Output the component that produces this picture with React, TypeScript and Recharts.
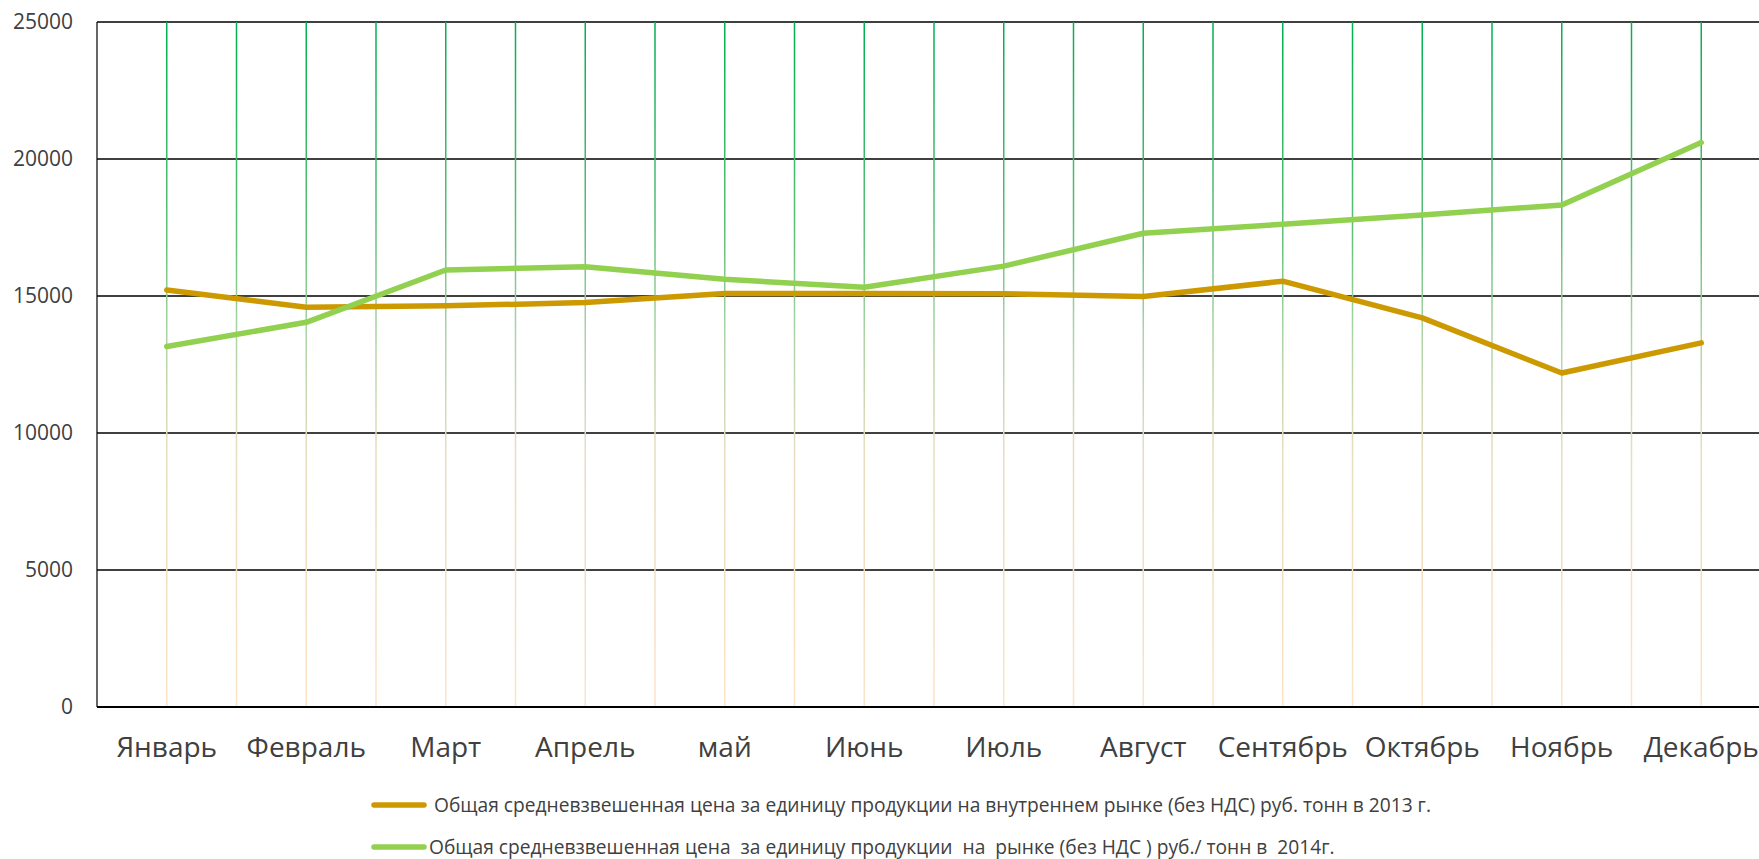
import React from 'react';
import { LineChart, Line, XAxis, YAxis, CartesianGrid, ReferenceLine, Legend } from 'recharts';

const months = ['Январь', 'Февраль', 'Март', 'Апрель', 'май', 'Июнь', 'Июль', 'Август', 'Сентябрь', 'Октябрь', 'Ноябрь', 'Декабрь'];
const prices2013 = [15220, 14590, 14640, 14760, 15090, 15090, 15080, 14980, 15540, 14200, 12190, 13290];
const prices2014 = [13160, 14040, 15950, 16070, 15610, 15320, 16090, 17290, 17620, 17960, 18320, 20600];
const yTicks = [0, 5000, 10000, 15000, 20000, 25000];
const seriesKeys = ['y2013', 'y2014'];
const seriesNames = [
  ' Общая средневзвешенная цена за единицу продукции на внутреннем рынке (без НДС) руб. тонн в 2013 г.',
  'Общая средневзвешенная цена  за единицу продукции  на  рынке (без НДС ) руб./ тонн в  2014г.',
];
const seriesColors = ['#CC9A00', '#92D050'];

const data = months.map((m, i) => ({ idx: i, month: m, y2013: prices2013[i], y2014: prices2014[i] }));
const xTicks = months.map((_, i) => i);
const verticalGrid = months.flatMap((_, i) => (i === 0 ? [0] : [i - 0.5, i]));

const CHART_W = 1780;
const CHART_H = 859;
const MARGIN = { top: 22, right: 9, left: 0, bottom: 72 };
const Y_AXIS_W = 97;
const X_AXIS_H = 80;
const PLOT_TOP = MARGIN.top;
const PLOT_BOTTOM = CHART_H - MARGIN.bottom - X_AXIS_H;
const FONT = '"Open Sans", "Noto Sans", sans-serif';
const TEXT = '#404040';

const LegendContent = (props: any) => {
  const payload = (props.payload || []) as any[];
  return (
    <div style={{ fontFamily: FONT, fontSize: 19.2, color: TEXT }}>
      {payload.map((p, i) => (
        <div key={i} style={{ display: 'flex', alignItems: 'center', height: 42, whiteSpace: 'pre' }}>
          <svg width={56} height={10} style={{ display: 'block', flex: 'none' }}>
            <line x1={3} y1={5} x2={53} y2={5} stroke={p.color} strokeWidth={5.5} strokeLinecap="round" />
          </svg>
          <span style={{ marginLeft: 2, lineHeight: '42px' }}>{p.value}</span>
        </div>
      ))}
    </div>
  );
};

export default function App() {
  return (
    <div
      style={{
        position: 'fixed',
        left: 0,
        top: 0,
        width: 1759,
        height: 859,
        overflow: 'hidden',
        background: '#ffffff',
        fontFamily: FONT,
      }}
    >
      <LineChart width={CHART_W} height={CHART_H} data={data} margin={MARGIN}>
        <defs>
          <linearGradient id="vGrid" gradientUnits="userSpaceOnUse" x1={0} y1={PLOT_TOP} x2={0} y2={PLOT_BOTTOM}>
            <stop offset="0" stopColor="#00B050" />
            <stop offset="0.3" stopColor="#5DBE78" />
            <stop offset="0.45" stopColor="#A9D3A3" />
            <stop offset="0.62" stopColor="#E6DDBE" />
            <stop offset="1" stopColor="#FDE3C8" />
          </linearGradient>
        </defs>
        <CartesianGrid vertical={false} stroke="#000000" strokeWidth={1.5} />
        {verticalGrid.map((v) => (
          <ReferenceLine key={v} x={v} stroke="url(#vGrid)" strokeWidth={1.5} />
        ))}
        <XAxis
          dataKey="idx"
          type="number"
          domain={[-0.5, 11.5]}
          ticks={xTicks}
          interval={0}
          tickFormatter={(v: number) => months[v]}
          tickLine={false}
          tickMargin={24}
          height={X_AXIS_H}
          axisLine={{ stroke: '#000000', strokeWidth: 2 }}
          tick={{ fill: TEXT, fontSize: 28, fontFamily: FONT }}
        />
        <YAxis
          domain={[0, 25000]}
          ticks={yTicks}
          interval={0}
          width={Y_AXIS_W}
          tickLine={false}
          tickMargin={18}
          axisLine={{ stroke: '#000000', strokeWidth: 1.2 }}
          tick={{ fill: TEXT, fontSize: 21, fontFamily: FONT }}
        />
        {seriesKeys.map((k, i) => (
          <Line
            key={k}
            type="linear"
            dataKey={k}
            name={seriesNames[i]}
            stroke={seriesColors[i]}
            strokeWidth={5.5}
            strokeLinecap="round"
            strokeLinejoin="round"
            dot={false}
            activeDot={false}
            isAnimationActive={false}
          />
        ))}
        <Legend
          layout="horizontal"
          align="center"
          verticalAlign="middle"
          content={LegendContent}
          wrapperStyle={{ left: 371, top: 784, width: 1200, height: 84 }}
        />
      </LineChart>
    </div>
  );
}
